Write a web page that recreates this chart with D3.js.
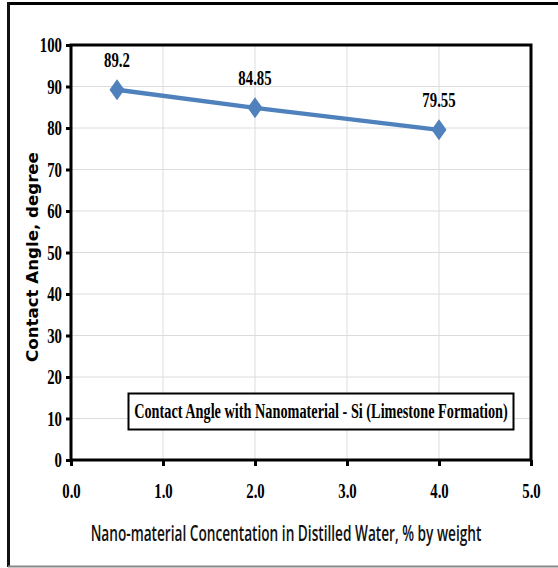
<!DOCTYPE html>
<html>
<head>
<meta charset="utf-8">
<script src="https://cdnjs.cloudflare.com/ajax/libs/d3/7.8.5/d3.min.js"></script>
<style>
  body { margin: 0; background: #fff; }
  svg { display: block; }
</style>
</head>
<body>
<svg id="chart" width="558" height="568"></svg>
<script>
// data
let concentrations = [0.5, 2.0, 4.0];
let contactAngles = [89.2, 84.85, 79.55];
let pointLabels = ["89.2", "84.85", "79.55"];
let xTicks = [0, 1, 2, 3, 4, 5];
let yTicks = [0, 10, 20, 30, 40, 50, 60, 70, 80, 90, 100];
let seriesName = "Contact Angle with Nanomaterial - Si (Limestone Formation)";
let xTitle = "Nano-material Concentation in Distilled Water, % by weight";
let yTitle = "Contact Angle, degree";

const serif = "'Liberation Serif', 'Times New Roman', serif";
const narrow = 0.74;

let svg = d3.select("#chart");

let plot = { left: 71, right: 531, top: 45, bottom: 460 };

let x = d3.scaleLinear().domain([0, 5]).range([plot.left, plot.right]);
let y = d3.scaleLinear().domain([0, 100]).range([plot.bottom, plot.top]);

// squeeze text horizontally, keeping its anchor where it was
function squeeze(sel, s) {
  sel.each(function() {
    let t = d3.select(this);
    let x0 = +t.attr("x") || 0;
    t.attr("x", x0 / s).attr("transform", "scale(" + s + ",1)");
  });
}

// outer frame
svg.append("line").attr("x1", 8).attr("x2", 558).attr("y1", 3.5).attr("y2", 3.5)
  .attr("stroke", "#000").attr("stroke-width", 3);
svg.append("line").attr("x1", 8.5).attr("x2", 8.5).attr("y1", 2).attr("y2", 567)
  .attr("stroke", "#111").attr("stroke-width", 3);
svg.append("line").attr("x1", 8).attr("x2", 558).attr("y1", 566.5).attr("y2", 566.5)
  .attr("stroke", "#888").attr("stroke-width", 2);

// grid
let grid = svg.append("g").attr("stroke", "#dcdcdc").attr("stroke-width", 1);
grid.selectAll(".h").data(yTicks).enter().append("line")
  .attr("x1", plot.left).attr("x2", plot.right)
  .attr("y1", d => y(d)).attr("y2", d => y(d));
grid.selectAll(".v").data(xTicks).enter().append("line")
  .attr("y1", plot.top).attr("y2", plot.bottom)
  .attr("x1", d => x(d)).attr("x2", d => x(d));

// plot border
svg.append("rect")
  .attr("x", plot.left).attr("y", plot.top)
  .attr("width", plot.right - plot.left).attr("height", plot.bottom - plot.top)
  .attr("fill", "none").attr("stroke", "#000").attr("stroke-width", 3);

// axes
let xAxis = svg.append("g")
  .attr("transform", "translate(0," + plot.bottom + ")")
  .call(d3.axisBottom(x).tickValues(xTicks).tickSize(6).tickPadding(18).tickFormat(d3.format(".1f")));
let yAxis = svg.append("g")
  .attr("transform", "translate(" + plot.left + ",0)")
  .call(d3.axisLeft(y).tickValues(yTicks).tickSize(5).tickPadding(4));

[xAxis, yAxis].forEach(a => {
  a.select(".domain").remove();
  a.selectAll("line").attr("stroke", "#000").attr("stroke-width", 3);
  a.selectAll("text")
    .attr("fill", "#000")
    .style("font-family", serif)
    .style("font-weight", "bold")
    .style("font-size", "20px");
  squeeze(a.selectAll("text"), narrow);
});
yAxis.selectAll("text").attr("dy", "0.34em");

// series line
let line = d3.line().x(d => x(d[0])).y(d => y(d[1]));
let pts = concentrations.map((c, i) => [c, contactAngles[i]]);

svg.append("path").datum(pts)
  .attr("d", line)
  .attr("fill", "none")
  .attr("stroke", "#4f81bd")
  .attr("stroke-width", 4.5);

svg.selectAll(".marker").data(pts).enter().append("path")
  .attr("class", "marker")
  .attr("transform", d => "translate(" + x(d[0]) + "," + y(d[1]) + ")")
  .attr("d", "M0,-10.5 L7.5,0 L0,10.5 L-7.5,0 Z")
  .attr("fill", "#4f81bd");

let plabels = svg.selectAll(".plabel").data(pts).enter().append("text")
  .attr("class", "plabel")
  .attr("x", d => x(d[0]))
  .attr("y", d => y(d[1]) - 23)
  .attr("text-anchor", "middle")
  .style("font-family", serif)
  .style("font-weight", "bold")
  .style("font-size", "20px")
  .text((d, i) => pointLabels[i]);
squeeze(plabels, narrow);

// legend box
let legend = svg.append("g");
legend.append("rect")
  .attr("x", 128.5).attr("y", 393.5).attr("width", 385).attr("height", 36)
  .attr("fill", "#fff").attr("stroke", "#000").attr("stroke-width", 2);
let legText = legend.append("text")
  .attr("x", 321).attr("y", 418)
  .attr("text-anchor", "middle")
  .style("font-family", serif)
  .style("font-weight", "bold")
  .style("font-size", "20px")
  .text(seriesName);
squeeze(legText, 374 / legText.node().getComputedTextLength());

// axis titles
let xt = svg.append("text")
  .attr("x", 286).attr("y", 541)
  .attr("text-anchor", "middle")
  .attr("fill", "#111")
  .style("font-family", "'Open Sans', 'Liberation Sans', sans-serif")
  .style("font-weight", "600")
  .style("font-size", "22px")
  .text(xTitle);
squeeze(xt, 391 / xt.node().getComputedTextLength());

let yt = svg.append("text")
  .attr("text-anchor", "middle")
  .style("font-family", "'DejaVu Sans', Verdana, sans-serif")
  .style("font-weight", "bold")
  .style("font-size", "15px")
  .text(yTitle);
let ys = 210 / yt.node().getComputedTextLength();
yt.attr("transform", "translate(38,257) rotate(-90) scale(" + ys + ",1)");
</script>
</body>
</html>
